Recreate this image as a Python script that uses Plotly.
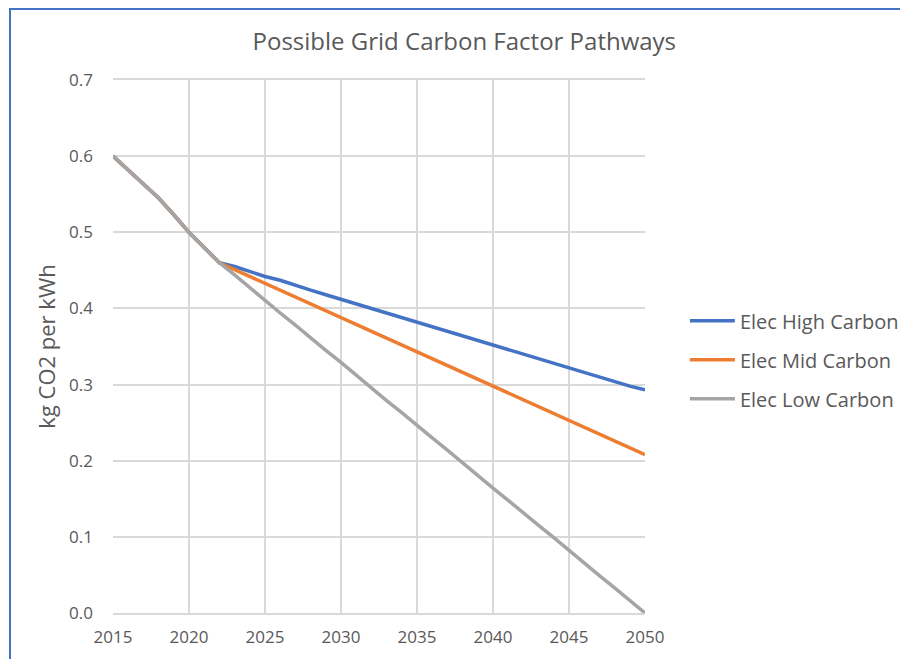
import plotly.graph_objects as go

years = list(range(2015, 2051))

shared = [0.600, 0.582, 0.564, 0.545, 0.523, 0.500, 0.480]  # 2015-2021, common to all pathways

high_carbon = shared + [
    0.460, 0.455, 0.448, 0.442, 0.437, 0.430, 0.424, 0.418, 0.412, 0.405,
    0.400, 0.394, 0.388, 0.382, 0.376, 0.370, 0.364, 0.358, 0.352, 0.346,
    0.340, 0.334, 0.328, 0.322, 0.316, 0.310, 0.304, 0.298, 0.293,
]
mid_carbon = shared + [
    0.460, 0.451, 0.442, 0.433, 0.424, 0.415, 0.406, 0.397, 0.388, 0.379,
    0.370, 0.361, 0.352, 0.343, 0.334, 0.325, 0.316, 0.307, 0.298, 0.289,
    0.280, 0.271, 0.262, 0.253, 0.244, 0.235, 0.226, 0.217, 0.208,
]
low_carbon = shared + [
    0.460, 0.444, 0.427, 0.411, 0.394, 0.378, 0.361, 0.345, 0.329, 0.312,
    0.296, 0.279, 0.263, 0.246, 0.230, 0.214, 0.197, 0.181, 0.164, 0.148,
    0.131, 0.115, 0.099, 0.082, 0.066, 0.049, 0.033, 0.016, 0.000,
]

series = [
    ("Elec High Carbon", high_carbon, "#4472C4"),
    ("Elec Mid Carbon", mid_carbon, "#ED7D31"),
    ("Elec Low Carbon", low_carbon, "#A5A5A5"),
]

FONT = "Open Sans"
GREY_TEXT = "#595959"

fig = go.Figure()
for name, vals, color in series:
    fig.add_trace(go.Scatter(
        x=years, y=vals, name=name, mode="lines", legendgroup=name,
        line=dict(color=color, width=3.5),
    ))

# page body adds an 8px offset, so the figure is sized a bit under the window
fig.update_layout(
    width=900, height=651,
    margin=dict(l=105, r=263, t=72, b=46, autoexpand=False),
    paper_bgcolor="white", plot_bgcolor="white",
    font=dict(family=FONT, color=GREY_TEXT),
    title=dict(
        text="Possible Grid Carbon Factor Pathways",
        x=0.507, xanchor="center", y=0.948, yanchor="middle",
        font=dict(size=24, color=GREY_TEXT, family=FONT),
    ),
    legend=dict(
        x=1.075, xanchor="left", y=0.475, yanchor="middle",
        font=dict(size=20, color=GREY_TEXT, family=FONT),
        tracegroupgap=10, itemwidth=45,
    ),
    xaxis=dict(
        range=[2015, 2050], tickvals=list(range(2015, 2051, 5)),
        showgrid=True, gridcolor="#D9D9D9", gridwidth=1.5,
        showline=True, linecolor="#D9D9D9", linewidth=1.5, mirror=True,
        zeroline=False, ticks="", tickfont=dict(size=17, color=GREY_TEXT),
        ticklabelstandoff=8,
    ),
    yaxis=dict(
        range=[0, 0.7], dtick=0.1, tickformat=".1f",
        showgrid=True, gridcolor="#D9D9D9", gridwidth=1.5,
        showline=False, zeroline=False, ticks="",
        tickfont=dict(size=17, color=GREY_TEXT),
        ticklabelstandoff=19,
        title=dict(text="kg CO2 per kWh", font=dict(size=22, color=GREY_TEXT), standoff=7),
    ),
    shapes=[dict(
        type="rect", xref="paper", yref="paper",
        x0=-0.1936, x1=1.51, y0=-0.11, y1=1.1332,
        line=dict(color="#4472C4", width=2), layer="above",
    )],
)

fig.write_html("out.html")
